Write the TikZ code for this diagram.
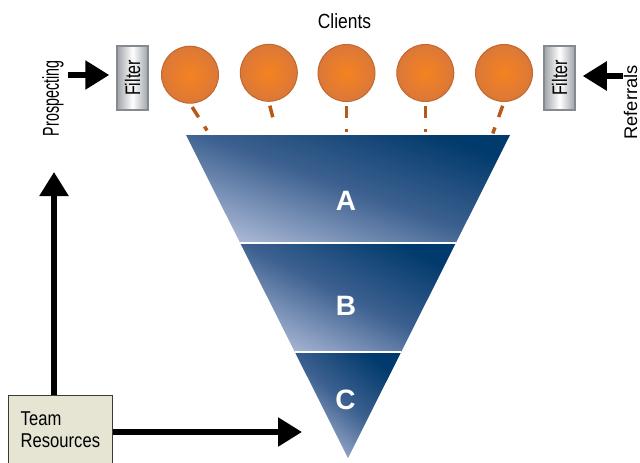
\documentclass[tikz,border=0pt]{standalone}
\usepackage{fontspec}
\setmainfont{Liberation Sans}
% narrowed cuts of the same family for the labels
\newfontfamily\clientsfont{Liberation Sans}[FakeStretch=0.85]
\newfontfamily\filterfont{Liberation Sans}[FakeStretch=0.77]
\newfontfamily\teamfont{Liberation Sans}[FakeStretch=0.83]
\newfontfamily\prospfont{Liberation Sans}[FakeStretch=0.62]
\usetikzlibrary{arrows.meta,calc}

\definecolor{funneldark}{HTML}{013A6C}
\definecolor{funnelmid}{HTML}{3D6190}
\definecolor{funnellight}{HTML}{A5B4D2}
\definecolor{clientin}{HTML}{F58220}
\definecolor{clientout}{HTML}{DB7838}
\definecolor{clientrim}{HTML}{C2682E}
\definecolor{tether}{HTML}{B65A1A}
\definecolor{filteredge}{HTML}{9EA3A8}
\definecolor{filterrim}{HTML}{858A90}
\definecolor{teamfill}{HTML}{E6E4D2}
\definecolor{teamrim}{HTML}{3A3A3A}

\begin{document}
\begin{tikzpicture}[x=1pt,y=-1pt,
  client/.style={circle, minimum size=57pt, inner sep=0pt, draw=clientrim,
    line width=1pt, inner color=clientin, outer color=clientout},
  filterbox/.style={rectangle, minimum width=31pt, minimum height=64pt,
    inner sep=0pt, draw=filterrim, line width=1.5pt,
    left color=filteredge, right color=filteredge, middle color=white},
  tetherline/.style={draw=tether, line width=3.5pt,
    dash pattern=on 12pt off 11pt, shorten <=4pt},
  bigarrow/.style={line width=5.5pt,
    -{Triangle[length=24pt,width=28pt]}},
  band/.style={top color=funneldark, bottom color=funnellight,
    middle color=funnelmid, shading angle=#1},
  bandlabel/.style={text=white, font=\bfseries\fontsize{28}{30}\selectfont,
    anchor=base, inner sep=0pt},
  sidelabel/.style={rotate=90, inner sep=0pt}
]
\useasboundingbox (0,0) rectangle (640,463);

% funnel outline points
\coordinate (ftl) at (186,135);
\coordinate (ftr) at (510,135);
\coordinate (fap) at (348,458);
\coordinate (abl) at ($(ftl)!0.33437!(fap)$);
\coordinate (abr) at ($(ftr)!0.33437!(fap)$);
\coordinate (bcl) at ($(ftl)!0.67183!(fap)$);
\coordinate (bcr) at ($(ftr)!0.67183!(fap)$);

% funnel bands
\shade[band=-20] (ftl) -- (ftr) -- (abr) -- (abl) -- cycle;
\shade[band=-27] (abl) -- (abr) -- (bcr) -- (bcl) -- cycle;
\shade[band=-40] (bcl) -- (bcr) -- (fap) -- cycle;
\draw[white, line width=1.5pt] (abl) -- (abr);
\draw[white, line width=1.5pt] (bcl) -- (bcr);

\node[bandlabel] (la) at (346,210) {A};
\node[bandlabel] (lb) at (346,315.5) {B};
\node[bandlabel] (lc) at (345.5,409.5) {C};

% clients
\node[anchor=base, inner sep=0pt, font=\clientsfont\fontsize{20.5}{22}\selectfont]
  (clients) at (344.5,28.3) {Clients};
\node[client] (c1) at (190,74.7) {};
\node[client] (c2) at (268.8,72.8) {};
\node[client] (c3) at (346.5,73) {};
\node[client] (c4) at (425.3,73) {};
\node[client] (c5) at (504,73) {};

% tethers down to the funnel mouth
\coordinate (e1) at (207,130.5);
\coordinate (e2) at (274,122);
\coordinate (e3) at (346.5,131.5);
\coordinate (e4) at (425.3,131.5);
\coordinate (e5) at (492.8,133.5);
\draw[tetherline] (c1.south) -- (e1);
\draw[tetherline] (c2.south) -- (e2);
\draw[tetherline] (c3.south) -- (e3);
\draw[tetherline] (c4.south) -- (e4);
\draw[tetherline] (c5.south) -- (e5);

% filters
\node[filterbox] (fl) at (132.5,78)
  {\rotatebox{90}{\filterfont\fontsize{21}{22}\selectfont Filter}};
\node[filterbox] (fr) at (559.5,78)
  {\rotatebox{90}{\filterfont\fontsize{21}{22}\selectfont Filter}};

% inflows
\node[sidelabel, font=\prospfont\fontsize{23}{24}\selectfont]
  (prosp) at (53,98.5) {Prospecting};
\node[sidelabel, font=\fontsize{18.3}{20}\selectfont]
  (refs) at (630.5,102.5) {Referrals};
\coordinate (pin) at (68,75);
\coordinate (rin) at (623,76);
\draw[bigarrow, shorten >=7pt] (pin) -- (pin -| fl.west);
\draw[bigarrow, shorten >=7pt] (rin) -- (rin -| fr.east);

% team resources
\node[draw=teamrim, line width=1.3pt, fill=teamfill, anchor=north west,
  minimum width=104.5pt, inner xsep=0pt, inner ysep=15.7pt, align=left,
  font=\teamfont\fontsize{20}{22}\selectfont]
  (team) at (7.5,395) {Team\\Resources\rule[-20pt]{0pt}{0pt}};
\coordinate (up) at (54,172);
\coordinate (right) at (302,432);
\draw[bigarrow] (up |- team.north) -- (up);
\draw[bigarrow] (team.east |- right) -- (right);
\end{tikzpicture}
\end{document}
